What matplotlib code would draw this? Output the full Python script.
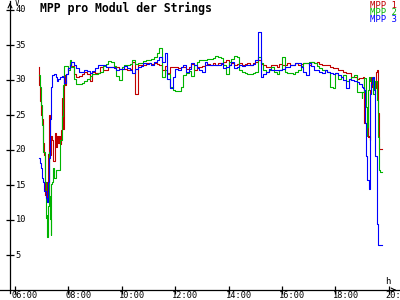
import matplotlib
matplotlib.use('Agg')
import matplotlib.pyplot as plt
import numpy as np
from matplotlib.transforms import offset_copy

# --- data (hours of day, volts) ---
red_am_t = [6.90, 6.91, 6.95, 6.97, 7.01, 7.05, 7.09, 7.12, 7.14, 7.16, 7.20, 7.22, 7.25, 7.29,
            7.31, 7.35, 7.39, 7.42, 7.44, 7.48, 7.50, 7.54, 7.56, 7.61, 7.65, 7.69, 7.72, 7.76,
            7.80, 7.82, 7.85, 7.87, 7.91, 8.00, 8.06]
red_am_v = [31.9, 29.3, 27.0, 25.0, 24.5, 21.0, 19.3, 16.5, 13.6, 15.4, 13.1, 14.5, 19.5, 25.0,
            19.3, 22.0, 21.5, 19.0, 18.5, 21.0, 22.4, 20.4, 22.0, 21.0, 22.0, 20.8, 22.8, 27.4,
            23.0, 26.0, 30.7, 29.3, 30.8, 31.7, 32.6]

green_am_t = [6.90, 6.92, 6.96, 6.97, 7.00, 7.03, 7.05, 7.10, 7.11, 7.14, 7.15, 7.18, 7.19, 7.22,
              7.24, 7.27, 7.28, 7.31, 7.33, 7.35, 7.36, 7.40, 7.44, 7.46, 7.52, 7.57, 7.69, 7.70,
              7.75, 7.80, 7.81, 7.84, 7.93, 8.00, 8.06]
green_am_v = [30.7, 29.0, 29.0, 26.5, 24.3, 23.6, 19.7, 19.7, 15.4, 15.4, 10.3, 10.7, 7.6, 8.0,
              12.0, 19.7, 13.5, 10.1, 12.0, 7.9, 15.2, 15.4, 17.4, 16.0, 17.1, 17.1, 17.1, 21.5,
              24.9, 26.0, 29.3, 32.0, 32.0, 31.5, 32.8]

blue_am_t = [6.90, 6.94, 6.97, 7.02, 7.06, 7.10, 7.15, 7.21, 7.25, 7.28, 7.31, 7.35, 7.40, 7.47,
             7.52, 7.56, 7.62, 7.69, 7.75, 7.81, 7.85, 7.90, 8.00, 8.06]
blue_am_v = [18.8, 18.1, 17.4, 16.0, 15.4, 14.2, 13.1, 12.6, 15.4, 18.8, 24.5, 29.0, 30.7, 30.8,
             30.4, 29.9, 30.1, 30.4, 30.6, 30.4, 29.6, 30.9, 31.7, 32.2]

# 08:06 .. 18:54, one reading every 6 minutes
day_t = np.round(np.arange(8.1, 18.95, 0.1), 2)

red_day = [32.0, 30.8, 30.4, 30.6, 30.8, 31.1, 30.9, 29.8, 31.2,
           31.0, 31.0, 31.8, 31.5, 31.4, 31.9, 31.9, 31.9, 31.8, 31.6,
           31.6, 31.6, 31.4, 31.6, 32.6, 28.0, 32.2, 32.2, 32.1, 32.4,
           32.4, 32.3, 32.5, 32.3, 32.1, 31.5, 32.0, 31.0, 31.8, 31.8,
           31.9, 31.7, 31.9, 31.8, 31.6, 31.9, 32.3, 31.4, 31.9, 31.9,
           32.0, 32.1, 32.3, 32.1, 32.4, 32.2, 32.4, 32.3, 32.6, 32.9,
           32.2, 32.4, 32.1, 32.3, 32.4, 32.2, 32.3, 32.4, 32.2, 32.4,
           32.6, 32.9, 32.3, 32.1, 31.9, 31.9, 32.1, 32.1, 31.9, 32.3,
           32.1, 32.1, 32.4, 32.1, 32.2, 32.4, 32.1, 32.3, 32.4, 32.4,
           32.2, 32.6, 32.4, 32.6, 32.3, 32.2, 32.1, 32.1, 31.9, 31.7,
           31.7, 31.4, 31.4, 31.2, 31.0, 31.0, 30.5, 30.4, 30.2, 30.3]

green_day = [31.8, 30.2, 29.5, 29.4, 29.6, 29.9, 30.2, 30.6, 30.9,
             30.8, 31.0, 31.1, 32.0, 32.3, 32.7, 32.6, 32.0, 30.6, 30.0,
             31.9, 32.2, 32.2, 32.3, 32.8, 32.3, 32.4, 32.5, 32.7, 32.9,
             32.9, 33.0, 33.3, 33.8, 34.6, 30.5, 31.5, 30.8, 29.0, 28.6,
             28.4, 28.4, 29.0, 30.7, 31.0, 31.3, 30.6, 32.1, 32.6, 32.9,
             32.9, 32.9, 33.0, 33.0, 33.1, 33.4, 33.3, 33.2, 32.2, 30.8,
             32.6, 33.0, 33.4, 33.3, 31.4, 31.1, 31.0, 30.9, 30.9, 31.0,
             31.2, 33.3, 32.4, 31.4, 31.2, 31.4, 31.8, 31.2, 30.8, 31.4,
             33.3, 31.2, 31.0, 31.0, 30.8, 31.2, 31.4, 32.0, 32.4, 32.4,
             32.6, 32.6, 32.4, 32.0, 31.7, 31.5, 31.4, 31.2, 29.0, 28.8,
             31.0, 30.2, 30.5, 30.7, 29.8, 30.2, 30.5, 30.7, 28.3, 28.3]

blue_day = [32.6, 32.2, 31.7, 31.2, 31.1, 31.4, 31.3, 31.0, 31.3,
            31.7, 32.2, 32.1, 32.1, 31.9, 31.9, 31.9, 31.7, 31.4, 31.6,
            31.6, 32.0, 31.7, 31.4, 31.0, 31.6, 31.9, 32.0, 32.4, 32.3,
            32.4, 32.1, 32.6, 32.9, 33.3, 32.6, 33.9, 30.2, 28.9, 30.5,
            31.6, 31.4, 31.9, 32.2, 31.2, 31.6, 32.4, 32.2, 31.7, 31.4,
            31.2, 32.6, 32.1, 32.1, 32.1, 32.1, 32.1, 32.4, 31.7, 31.8,
            32.1, 32.6, 31.7, 31.9, 32.1, 32.0, 32.1, 32.1, 32.1, 32.3,
            32.9, 36.9, 30.5, 30.9, 31.2, 31.6, 31.4, 31.4, 31.4, 31.4,
            31.6, 31.9, 31.9, 32.1, 32.1, 32.4, 32.4, 31.9, 31.2, 30.7,
            32.4, 32.0, 31.4, 31.4, 31.2, 31.0, 31.4, 31.2, 31.0, 30.9,
            31.0, 30.7, 30.5, 30.0, 28.8, 30.2, 30.0, 29.8, 29.7, 29.5]

red_pm_t = [18.98, 19.04, 19.07, 19.08, 19.15, 19.21, 19.26, 19.29, 19.31, 19.33, 19.38, 19.46,
            19.51, 19.55, 19.58, 19.59, 19.63, 19.74]
red_pm_v = [30.3, 30.5, 29.7, 23.9, 23.9, 21.9, 22.0, 21.4, 28.6, 30.5, 29.0, 28.8,
            31.2, 31.4, 30.8, 25.3, 20.2, 20.2]

green_pm_t = [18.98, 19.01, 19.07, 19.13, 19.17, 19.19, 19.21, 19.26, 19.29, 19.36, 19.42, 19.48,
              19.55, 19.58, 19.63, 19.67, 19.74]
green_pm_v = [27.5, 28.3, 30.3, 26.2, 22.0, 23.3, 28.6, 30.5, 29.8, 30.5, 28.0, 29.8,
              27.1, 21.9, 17.1, 16.8, 16.8]

blue_pm_t = [18.98, 19.04, 19.08, 19.09, 19.13, 19.17, 19.23, 19.27, 19.29, 19.33, 19.38, 19.42,
             19.46, 19.48, 19.55, 19.61, 19.74]
blue_pm_v = [29.0, 28.8, 28.6, 23.9, 19.1, 15.7, 15.7, 14.5, 28.0, 29.5, 30.3, 30.5,
             28.6, 19.1, 9.5, 6.4, 6.4]

names = ['MPP 1', 'MPP 2', 'MPP 3']
colors = ['#c00000', '#00b400', '#0000ff']
x_ticks = [6, 8, 10, 12, 14, 16, 18, 20]
x_labels = ['06:00', '08:00', '10:00', '12:00', '14:00', '16:00', '18:00', '20:00']
y_ticks = [5, 10, 15, 20, 25, 30, 35, 40]

series = [
    (red_am_t, red_am_v, red_day, red_pm_t, red_pm_v),
    (green_am_t, green_am_v, green_day, green_pm_t, green_pm_v),
    (blue_am_t, blue_am_v, blue_day, blue_pm_t, blue_pm_v),
]

plt.rcParams['font.family'] = 'DejaVu Sans Mono'
fig = plt.figure(figsize=(4, 3), dpi=100)
ax = fig.add_axes([10 / 400, 10 / 300, 389 / 400, 280 / 300])
ax.set_xlim(5.813, 20.38)
ax.set_ylim(0, 40)

for (am_t, am_v, day_v, pm_t, pm_v), c in zip(series, colors):
    t = np.concatenate([am_t, day_t, pm_t])
    v = np.concatenate([am_v, day_v, pm_v])
    ax.plot(t, v, color=c, lw=0.8, drawstyle='steps-post')

# axes drawn as arrows
for s in ax.spines.values():
    s.set_visible(False)
ax.plot([-10 / 389, 1], [0, 0], transform=ax.transAxes, color='black', lw=0.9, clip_on=False)
ax.plot([0, 0], [-3 / 280, 1 + 9 / 280], transform=ax.transAxes, color='black', lw=0.9, clip_on=False)
ax.annotate('', xy=(0, 1 + 10 / 280), xytext=(0, 1 + 2 / 280), xycoords='axes fraction',
            arrowprops=dict(arrowstyle='->', lw=0.8, color='black', mutation_scale=7),
            annotation_clip=False)
ax.annotate('', xy=(1, 0), xytext=(1 - 8 / 389, 0), xycoords='axes fraction',
            arrowprops=dict(arrowstyle='->', lw=0.8, color='black', mutation_scale=7),
            annotation_clip=False)

ax.set_xticks(x_ticks)
ax.set_xticklabels(x_labels)
ax.set_yticks(y_ticks)
ax.set_yticklabels([str(y) for y in y_ticks])
ax.tick_params(axis='both', direction='inout', length=6, width=0.9, labelsize=6.2)
ax.tick_params(axis='x', pad=-2.5)
ax.tick_params(axis='y', pad=-7)
for lab in ax.get_yticklabels():
    lab.set_horizontalalignment('left')
    lab.set_verticalalignment('center')
for lab in ax.get_xticklabels():
    lab.set_horizontalalignment('left')
    lab.set_transform(offset_copy(lab.get_transform(), fig=fig, x=-3, y=0, units='dots'))

fig.text(40 / 400, 1 - 8 / 300, 'MPP pro Modul der Strings', fontsize=8.3, fontweight='bold',
         va='center', ha='left')
fig.text(15 / 400, 1 - 3 / 300, 'V', fontsize=5.5, va='center', ha='left')
fig.text(385 / 400, 1 - 281 / 300, 'h', fontsize=6.5, va='center', ha='left')
for i, (n, c) in enumerate(zip(names, colors)):
    fig.text(370 / 400, 1 - (5 + 7.5 * i) / 300, n, color=c, fontsize=6.5,
             va='center', ha='left')

fig.savefig('out.png', dpi=100)
